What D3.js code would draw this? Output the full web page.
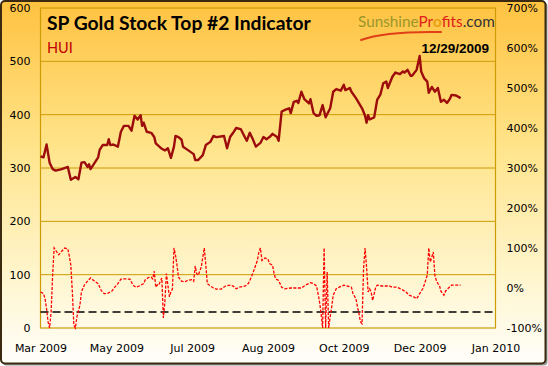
<!DOCTYPE html>
<html>
<head>
<meta charset="utf-8">
<script src="https://cdn.jsdelivr.net/npm/d3@7"></script>
<style>
  body { margin: 0; background: #fff; }
  svg { display: block; }
</style>
</head>
<body>
<div class="chart"></div>
<script>
// HUI closing values (left axis)
var huiDates = ["2009-03-27","2009-03-29","2009-03-31","2009-04-02","2009-04-04","2009-04-06","2009-04-10","2009-04-14","2009-04-16","2009-04-19",
  "2009-04-21","2009-04-23","2009-04-25","2009-04-27","2009-04-28","2009-04-29","2009-05-02","2009-05-04","2009-05-05","2009-05-07",
  "2009-05-10","2009-05-11","2009-05-12","2009-05-14","2009-05-17","2009-05-19","2009-05-21","2009-05-24","2009-05-26","2009-05-28",
  "2009-05-30","2009-06-01","2009-06-02","2009-06-03","2009-06-05","2009-06-08","2009-06-10","2009-06-11","2009-06-15","2009-06-17",
  "2009-06-19","2009-06-21","2009-06-23","2009-06-24","2009-06-26","2009-06-28","2009-06-29","2009-07-02","2009-07-06","2009-07-07",
  "2009-07-09","2009-07-12","2009-07-14","2009-07-17","2009-07-19","2009-07-21","2009-07-26","2009-07-28","2009-07-30","2009-08-01",
  "2009-08-03","2009-08-06","2009-08-08","2009-08-10","2009-08-12","2009-08-14","2009-08-16","2009-08-19","2009-08-21","2009-08-23",
  "2009-08-25","2009-08-27","2009-08-30","2009-08-31","2009-09-02","2009-09-05","2009-09-07","2009-09-08","2009-09-10","2009-09-12",
  "2009-09-13","2009-09-15","2009-09-17","2009-09-20","2009-09-21","2009-09-23","2009-09-25","2009-09-27","2009-09-29","2009-10-01",
  "2009-10-04","2009-10-06","2009-10-08","2009-10-11","2009-10-13","2009-10-14","2009-10-17","2009-10-18","2009-10-21","2009-10-25",
  "2009-10-27","2009-10-28","2009-10-29","2009-10-30","2009-11-02","2009-11-04","2009-11-06","2009-11-08","2009-11-10","2009-11-11",
  "2009-11-14","2009-11-16","2009-11-19","2009-11-21","2009-11-22","2009-11-24","2009-11-26","2009-11-27","2009-11-30","2009-12-02",
  "2009-12-03","2009-12-05","2009-12-07","2009-12-08","2009-12-10","2009-12-12","2009-12-14","2009-12-16","2009-12-18","2009-12-20",
  "2009-12-22","2009-12-23","2009-12-26","2009-12-29"];
var huiValues = [322,320,344,310,298,295,298,302,278,283,
  279,310,311,302,307,298,311,320,334,343,
  343,354,343,344,340,368,379,379,370,398,
  391,399,379,385,368,366,358,346,336,333,
  337,319,340,360,358,353,340,334,326,315,
  315,324,343,349,360,358,360,337,358,366,
  375,373,362,351,366,354,340,347,358,354,
  358,364,358,351,406,410,412,403,424,426,
  422,443,429,421,429,403,398,399,418,395,
  412,443,448,445,456,446,450,443,431,412,
  398,385,399,391,395,428,437,459,462,450,
  471,479,476,481,479,484,473,473,484,510,
  481,468,462,441,452,443,450,424,428,422,
  430,437,436,431];

// indicator values in % (right axis)
var oscDates = ["2009-03-27","2009-03-29","2009-03-30","2009-03-31","2009-04-01","2009-04-02","2009-04-03","2009-04-04","2009-04-05","2009-04-06",
  "2009-04-08","2009-04-10","2009-04-12","2009-04-14","2009-04-15","2009-04-16","2009-04-17","2009-04-18","2009-04-19","2009-04-20",
  "2009-04-22","2009-04-23","2009-04-25","2009-04-27","2009-04-29","2009-05-01","2009-05-04","2009-05-06","2009-05-08","2009-05-10",
  "2009-05-13","2009-05-15","2009-05-17","2009-05-19","2009-05-21","2009-05-25","2009-05-27","2009-05-29","2009-05-31","2009-06-03",
  "2009-06-04","2009-06-06","2009-06-08","2009-06-09","2009-06-10","2009-06-11","2009-06-12","2009-06-13","2009-06-14","2009-06-15",
  "2009-06-16","2009-06-17","2009-06-18","2009-06-19","2009-06-20","2009-06-21","2009-06-22","2009-06-23","2009-06-24","2009-06-25",
  "2009-06-26","2009-06-27","2009-06-28","2009-06-30","2009-07-02","2009-07-05","2009-07-06","2009-07-07","2009-07-08","2009-07-09",
  "2009-07-10","2009-07-11","2009-07-12","2009-07-13","2009-07-14","2009-07-15","2009-07-17","2009-07-19","2009-07-21","2009-07-24",
  "2009-07-27","2009-07-30","2009-08-01","2009-08-03","2009-08-05","2009-08-09","2009-08-11","2009-08-13","2009-08-15","2009-08-17",
  "2009-08-18","2009-08-19","2009-08-20","2009-08-22","2009-08-24","2009-08-25","2009-08-27","2009-08-28","2009-08-29","2009-08-31",
  "2009-09-02","2009-09-04","2009-09-08","2009-09-11","2009-09-15","2009-09-18","2009-09-21","2009-09-23","2009-09-25","2009-09-26",
  "2009-09-27","2009-09-28","2009-09-29","2009-09-30","2009-10-01","2009-10-02","2009-10-03","2009-10-04","2009-10-05","2009-10-06",
  "2009-10-07","2009-10-08","2009-10-10","2009-10-13","2009-10-15","2009-10-18","2009-10-19","2009-10-21","2009-10-22","2009-10-23",
  "2009-10-24","2009-10-25","2009-10-26","2009-10-27","2009-10-28","2009-10-29","2009-10-30","2009-10-31","2009-11-01","2009-11-03",
  "2009-11-04","2009-11-07","2009-11-12","2009-11-14","2009-11-17","2009-11-20","2009-11-23","2009-11-25","2009-11-28","2009-11-30",
  "2009-12-02","2009-12-04","2009-12-05","2009-12-07","2009-12-08","2009-12-09","2009-12-10","2009-12-11","2009-12-12","2009-12-13",
  "2009-12-14","2009-12-15","2009-12-16","2009-12-18","2009-12-19","2009-12-21","2009-12-23","2009-12-29"];
var oscValues = [-10,-14,-27,-52,-85,-100,-60,32,100,94,
  83,92,100,98,80,57,-10,-93,-100,-72,
  -43,-10,8,17,25,19,11,-6,-14,-14,
  -8,2,11,22,23,22,7,2,5,11,
  20,26,27,23,42,2,8,7,17,25,
  -75,-35,36,7,-22,-10,-2,100,82,57,
  27,22,17,15,19,21,17,55,36,32,
  42,52,77,100,57,11,5,0,-3,-3,
  5,7,5,-2,2,5,11,27,47,69,
  90,100,69,75,72,61,57,36,23,19,
  2,-2,0,0,0,8,13,11,5,-14,
  -35,-64,-100,100,-100,40,-100,-72,-47,-18,
  -10,-2,2,7,5,2,-14,-27,-47,-64,
  -85,-89,48,100,52,-10,-2,-10,-31,2,
  7,5,5,2,2,-3,-10,-18,-22,-27,
  -14,-2,8,32,100,65,77,90,32,19,
  11,7,-8,-18,-8,0,7,7];

var signalLevel = -60; // dashed line, %

var xTickDates = ["2009-03-27","2009-05-16","2009-07-05","2009-08-24","2009-10-13","2009-12-02","2010-01-21"];
var leftTicks = [0, 100, 200, 300, 400, 500, 600];
var rightTicks = [-100, 0, 100, 200, 300, 400, 500, 600, 700];

var svgWidth = 548, svgHeight = 366;
var margin = {top: 8, right: 52.5, bottom: 38, left: 40.5};
var width = svgWidth - margin.left - margin.right;
var height = svgHeight - margin.top - margin.bottom;

var parseDate = d3.timeParse("%Y-%m-%d");
var hui = huiDates.map(function(d, i) { return {date: parseDate(d), value: huiValues[i]}; });
var osc = oscDates.map(function(d, i) { return {date: parseDate(d), value: oscValues[i]}; });
var xTicks = xTickDates.map(parseDate);

var svg = d3.select(".chart").append("svg")
    .attr("width", svgWidth)
    .attr("height", svgHeight);

// background gradient
var grad = svg.append("defs").append("linearGradient")
    .attr("id", "bg")
    .attr("x1", 0).attr("y1", 0).attr("x2", 0).attr("y2", 1);
grad.append("stop").attr("offset", "0%").attr("stop-color", "#ffc240");
grad.append("stop").attr("offset", "40%").attr("stop-color", "#ffe48a");
grad.append("stop").attr("offset", "75%").attr("stop-color", "#fff5cc");
grad.append("stop").attr("offset", "100%").attr("stop-color", "#fffefa");

svg.append("rect")
    .attr("x", 2.5).attr("y", 2.5)
    .attr("width", svgWidth - 3).attr("height", svgHeight - 3)
    .attr("rx", 4)
    .attr("fill", "#9a9a9a");
svg.append("rect")
    .attr("x", 1).attr("y", 1)
    .attr("width", svgWidth - 3.5).attr("height", svgHeight - 3.5)
    .attr("rx", 4)
    .attr("fill", "url(#bg)")
    .attr("stroke", "#3b2a10")
    .attr("stroke-width", 2);

var chartGroup = svg.append("g")
    .attr("transform", `translate(${margin.left}, ${margin.top})`);

var xScale = d3.scaleTime()
    .domain([xTicks[0], xTicks[xTicks.length - 1]])
    .range([0, width]);
var yLeft = d3.scaleLinear().domain([0, 600]).range([height, 0]);
var yRight = d3.scaleLinear().domain([-100, 700]).range([height, 0]);

// gridlines
chartGroup.append("g")
    .selectAll("line")
    .data(leftTicks.slice(1, -1))
    .enter()
    .append("line")
    .attr("x1", 0).attr("x2", width)
    .attr("y1", d => yLeft(d)).attr("y2", d => yLeft(d))
    .attr("stroke", "#cc9c00")
    .attr("stroke-width", 1);

chartGroup.append("rect")
    .attr("width", width).attr("height", height)
    .attr("fill", "none")
    .attr("stroke", "#cc9c00")
    .attr("stroke-width", 1.2);

// axes
var axisFont = "'DejaVu Sans', Verdana, sans-serif";

var leftAxis = d3.axisLeft(yLeft).tickValues(leftTicks).tickSize(0).tickPadding(10);
chartGroup.append("g").call(leftAxis)
    .call(g => g.select(".domain").remove())
    .selectAll("text")
    .attr("font-family", axisFont).attr("font-size", 11).attr("fill", "#000");

var rightAxis = d3.axisRight(yRight).tickValues(rightTicks).tickSize(0).tickPadding(11)
    .tickFormat(d => d + "%");
chartGroup.append("g")
    .attr("transform", `translate(${width}, 0)`)
    .call(rightAxis)
    .call(g => g.select(".domain").remove())
    .selectAll("text")
    .attr("font-family", axisFont).attr("font-size", 11).attr("fill", "#000");

var bottomAxis = d3.axisBottom(xScale).tickValues(xTicks).tickSize(0).tickPadding(16)
    .tickFormat(d3.timeFormat("%b %Y"));
chartGroup.append("g")
    .attr("transform", `translate(0, ${height})`)
    .call(bottomAxis)
    .call(g => g.select(".domain").remove())
    .selectAll("text")
    .attr("font-family", axisFont).attr("font-size", 11).attr("fill", "#000");

// signal line
chartGroup.append("line")
    .attr("x1", 0).attr("x2", width)
    .attr("y1", yRight(signalLevel)).attr("y2", yRight(signalLevel))
    .attr("stroke", "#000")
    .attr("stroke-width", 1.3)
    .attr("stroke-dasharray", "8,4");

// indicator
var oscLine = d3.line()
    .x(d => xScale(d.date))
    .y(d => yRight(d.value));
chartGroup.append("path")
    .datum(osc)
    .attr("d", oscLine)
    .attr("fill", "none")
    .attr("stroke", "#ff0000")
    .attr("stroke-width", 1.3)
    .attr("stroke-dasharray", "3,1.5");

// HUI
var huiLine = d3.line()
    .x(d => xScale(d.date))
    .y(d => yLeft(d.value));
chartGroup.append("path")
    .datum(hui)
    .attr("d", huiLine)
    .attr("fill", "none")
    .attr("stroke", "#9c0c0c")
    .attr("stroke-width", 2.4)
    .attr("stroke-linejoin", "round");

// titles
svg.append("text")
    .attr("x", 47).attr("y", 30)
    .attr("font-family", "Lato, 'Open Sans', sans-serif")
    .attr("font-weight", "bold")
    .attr("font-size", 19.3)
    .attr("fill", "#000")
    .text("SP Gold Stock Top #2 Indicator");

svg.append("text")
    .attr("x", 47).attr("y", 53)
    .attr("font-family", "Lato, 'Open Sans', sans-serif")
    .attr("font-size", 14.5)
    .attr("fill", "#c00000")
    .text("HUI");

svg.append("text")
    .attr("x", 489).attr("y", 53)
    .attr("text-anchor", "end")
    .attr("font-family", "'Liberation Sans', Arial, sans-serif")
    .attr("font-weight", "bold")
    .attr("font-size", 13.5)
    .attr("fill", "#000")
    .text("12/29/2009");

// logo
var logo = svg.append("text")
    .attr("x", 358).attr("y", 27)
    .attr("font-family", "Lato, 'Open Sans', sans-serif")
    .attr("font-size", 15.3);
logo.append("tspan").attr("fill", "#9a962a").text("Sunshine");
logo.append("tspan").attr("fill", "#e0201a").text("Pr");
logo.append("tspan").attr("fill", "#e8a010").attr("font-weight", "bold").text("o");
logo.append("tspan").attr("fill", "#e0201a").text("fits");
logo.append("tspan").attr("fill", "#333").text(".com");

svg.append("path")
    .attr("d", "M361,40 Q385,31 441,32")
    .attr("fill", "none")
    .attr("stroke", "#e04018")
    .attr("stroke-width", 2)
    .attr("stroke-linecap", "round");
</script>
</body>
</html>
